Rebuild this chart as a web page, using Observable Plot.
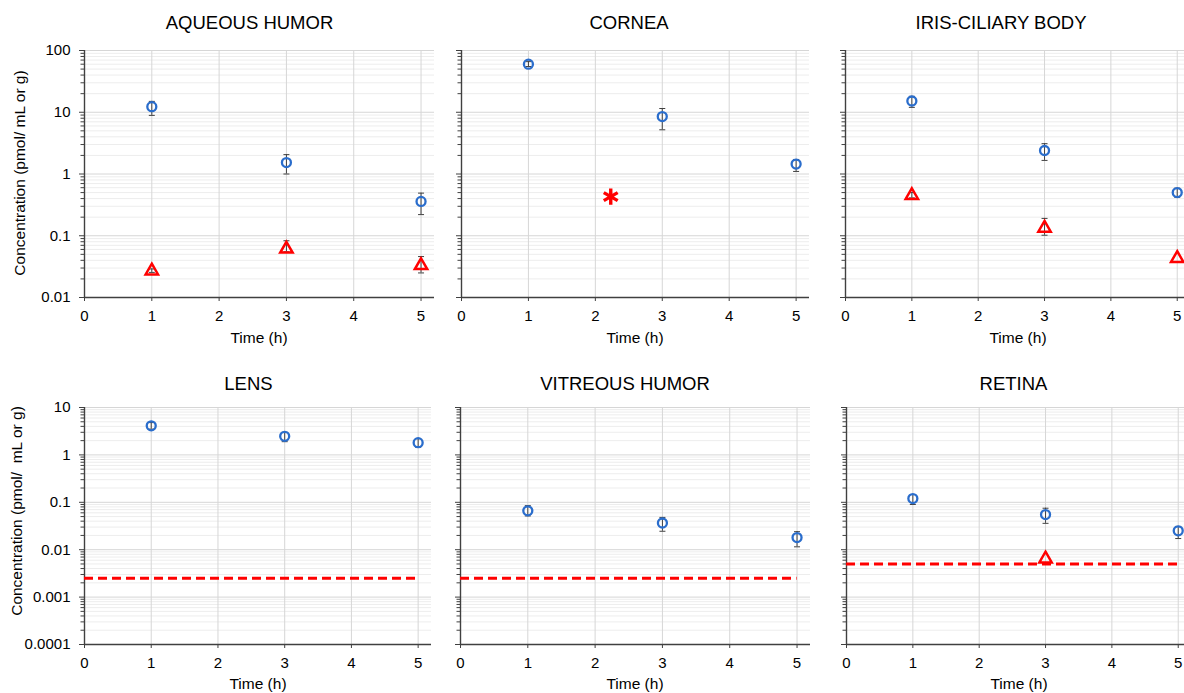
<!DOCTYPE html>
<html>
<head>
<meta charset="utf-8">
<script src="https://cdn.jsdelivr.net/npm/d3@7"></script>
<script src="https://cdn.jsdelivr.net/npm/@observablehq/plot@0.6"></script>
<style>
  html, body { margin: 0; padding: 0; background: #fff; overflow: hidden; }
  #chart { position: relative; width: 1184px; height: 693px; overflow: hidden; font-family: "Liberation Sans", Arial, sans-serif; color: #000; }
  .pnl { position: absolute; }
  .txt { position: absolute; white-space: pre; line-height: 1; transform: translate(-50%, -50%); }
  .ttl { font-size: 18.5px; }
  .lab { font-size: 15.5px; }
  .ylab { font-size: 15.5px; transform: translate(-50%, -50%) rotate(-90deg); }
</style>
</head>
<body>
<div id="chart"></div>
<script>
// ---------------- data ----------------
const times = [1, 3, 5];
const xTicks = [0, 1, 2, 3, 4, 5];
const loqSpan = [0, 5];

const yTicksTop = [0.01, 0.1, 1, 10, 100];
const yLabelsTop = ["0.01", "0.1", "1", "10", "100"];
const yTicksBottom = [0.0001, 0.001, 0.01, 0.1, 1, 10];
const yLabelsBottom = ["0.0001", "0.001", "0.01", "0.1", "1", "10"];

// AQUEOUS HUMOR
const aqParent   = [12.3, 1.53, 0.36];
const aqParentLo = [8.9, 1.0, 0.22];
const aqParentHi = [15.0, 2.06, 0.49];
const aqMetTimes = [1, 3, 5];
const aqMet      = [0.027, 0.061, 0.033];
const aqMetLo    = [0.0255, 0.055, 0.025];
const aqMetHi    = [0.029, 0.083, 0.046];

// CORNEA
const coParent   = [60, 8.5, 1.45];
const coParentLo = [55, 5.2, 1.1];
const coParentHi = [66, 11.5, 1.72];
const coMarkTime = [2.23];
const coMarkValue = [0.43];

// IRIS-CILIARY BODY
const irParent   = [15.2, 2.4, 0.5];
const irParentLo = [12.0, 1.66, 0.42];
const irParentHi = [18.1, 3.1, 0.59];
const irMetTimes = [1, 3, 5];
const irMet      = [0.45, 0.133, 0.043];
const irMetLo    = [0.41, 0.102, null];
const irMetHi    = [0.5, 0.191, null];

// LENS
const leParent   = [4.1, 2.46, 1.81];
const leParentLo = [3.5, 1.9, 1.45];
const leParentHi = [4.8, 3.0, 2.2];
const leLoq = 0.0025;

// VITREOUS HUMOR
const viParent   = [0.066, 0.0366, 0.018];
const viParentLo = [0.0515, 0.0245, 0.0115];
const viParentHi = [0.085, 0.048, 0.024];
const viLoq = 0.0025;

// RETINA
const reParent   = [0.12, 0.055, 0.025];
const reParentLo = [0.09, 0.036, 0.0172];
const reParentHi = [0.146, 0.075, 0.031];
const reMetTimes = [3];
const reMet      = [0.0064];
const reMetLo    = [null];
const reMetHi    = [null];
const reLoq = 0.005;

// ---------------- helpers ----------------
const blue = "#2a6dcc";
const red = "#ff0000";
const axisColor = "#404040";
const barColor = "#404040";

const capSymbol = {
  draw(ctx, size) {
    const w = Math.sqrt(size / Math.PI);
    ctx.moveTo(-w, 0);
    ctx.lineTo(w, 0);
  }
};

function rows(ts, vals, lo, hi) {
  return ts.map((t, i) => ({t, v: vals[i], lo: lo ? lo[i] : null, hi: hi ? hi[i] : null}));
}

function minorOf(majors) {
  const out = [];
  for (let i = 0; i < majors.length - 1; i++) {
    for (let k = 2; k <= 9; k++) out.push(majors[i] * k);
  }
  return out;
}

const chart = document.getElementById("chart");

function addText(cls, txt, x, y) {
  const d = document.createElement("div");
  d.className = "txt " + cls;
  d.textContent = txt;
  d.style.left = x + "px";
  d.style.top = y + "px";
  chart.appendChild(d);
}

function panel(cfg) {
  const {left, top, mL, plotW, mT, plotH, mB, majors, labels, showLabels} = cfg;
  const minors = minorOf(majors);
  const marks = [
    Plot.ruleY(minors, {stroke: "#ededed", strokeWidth: 1}),
    Plot.ruleY(majors, {stroke: "#d6d6d6", strokeWidth: 1}),
    Plot.ruleX(xTicks, {stroke: "#d6d6d6", strokeWidth: 1}),
    Plot.axisY({ticks: minors, tickSize: 3.5, tickFormat: () => "", label: null, stroke: axisColor}),
    Plot.axisY({
      ticks: majors, tickSize: 5, tickPadding: 9, label: null, stroke: axisColor, fill: "#000",
      tickFormat: showLabels ? (d) => labels[majors.indexOf(d)] : () => ""
    }),
    Plot.axisX({ticks: xTicks, tickSize: 4, tickPadding: 8.5, label: null, stroke: axisColor, fill: "#000", tickFormat: d => String(d)}),
    Plot.ruleX([0], {stroke: axisColor, strokeWidth: 1.4}),
    Plot.ruleY([majors[0]], {stroke: axisColor, strokeWidth: 1.4})
  ];
  if (cfg.loq != null) {
    marks.push(Plot.ruleY([cfg.loq], {
      y: d => d, x1: () => loqSpan[0], x2: () => loqSpan[1],
      stroke: red, strokeWidth: 3, strokeDasharray: "9,5"
    }));
  }
  const series = [];
  if (cfg.parent) series.push({data: cfg.parent, kind: "parent"});
  if (cfg.met) series.push({data: cfg.met, kind: "met"});
  for (const s of series) {
    const eb = s.data.filter(d => d.lo != null && d.hi != null);
    marks.push(Plot.ruleX(eb, {x: "t", y1: "lo", y2: "hi", stroke: barColor, strokeWidth: 1}));
    marks.push(Plot.dot(eb, {x: "t", y: "lo", symbol: capSymbol, r: 3, stroke: barColor, strokeWidth: 1}));
    marks.push(Plot.dot(eb, {x: "t", y: "hi", symbol: capSymbol, r: 3, stroke: barColor, strokeWidth: 1}));
  }
  for (const s of series) {
    if (s.kind === "parent") {
      marks.push(Plot.dot(s.data, {x: "t", y: "v", r: 4.5, stroke: blue, strokeWidth: 2.3, fill: "none"}));
    } else {
      marks.push(Plot.dot(s.data, {x: "t", y: "v", symbol: "triangle", r: 4.6, stroke: red, strokeWidth: 2.5, fill: "none", strokeLinejoin: "miter"}));
    }
  }
  if (cfg.mark) {
    marks.push(Plot.dot(cfg.mark, {x: "t", y: "v", symbol: "asterisk", r: 7.6, stroke: red, strokeWidth: 3.4}));
  }
  const svg = Plot.plot({
    width: mL + plotW + 6,
    height: mT + plotH + mB,
    marginLeft: mL, marginRight: 6, marginTop: mT, marginBottom: mB,
    x: {domain: [0, 5.2], axis: null},
    y: {type: "log", domain: [majors[0], majors[majors.length - 1]], axis: null},
    style: {fontFamily: "Liberation Sans, Arial, sans-serif", fontSize: "15px", background: "transparent", overflow: "visible", color: "#000"},
    marks
  });
  svg.classList.add("pnl");
  svg.style.left = left + "px";
  svg.style.top = top + "px";
  svg.style.position = "absolute";
  svg.style.maxWidth = "none";
  chart.appendChild(svg);
}

const top1 = {top: 0, mT: 50, plotH: 247, mB: 49, majors: yTicksTop, labels: yLabelsTop};
const top2 = {top: 350, mT: 57, plotH: 237, mB: 43, majors: yTicksBottom, labels: yLabelsBottom};

panel({...top1, left: 0, mL: 84, plotW: 350, showLabels: true,
  parent: rows(times, aqParent, aqParentLo, aqParentHi),
  met: rows(aqMetTimes, aqMet, aqMetLo, aqMetHi)});
panel({...top1, left: 441, mL: 20, plotW: 348, showLabels: false,
  parent: rows(times, coParent, coParentLo, coParentHi),
  mark: rows(coMarkTime, coMarkValue, null, null)});
panel({...top1, left: 825, mL: 20, plotW: 345, showLabels: false,
  parent: rows(times, irParent, irParentLo, irParentHi),
  met: rows(irMetTimes, irMet, irMetLo, irMetHi)});

panel({...top2, left: 0, mL: 84, plotW: 347, showLabels: true,
  parent: rows(times, leParent, leParentLo, leParentHi), loq: leLoq});
panel({...top2, left: 440, mL: 20, plotW: 350, showLabels: false,
  parent: rows(times, viParent, viParentLo, viParentHi), loq: viLoq});
panel({...top2, left: 826, mL: 20, plotW: 345, showLabels: false,
  parent: rows(times, reParent, reParentLo, reParentHi),
  met: rows(reMetTimes, reMet, reMetLo, reMetHi), loq: reLoq});

// titles & labels
addText("ttl", "AQUEOUS HUMOR", 249.5, 22.5);
addText("ttl", "CORNEA", 629, 22.5);
addText("ttl", "IRIS-CILIARY BODY", 1001, 22.5);
addText("ttl", "LENS", 248.5, 383.5);
addText("ttl", "VITREOUS HUMOR", 625, 383.5);
addText("ttl", "RETINA", 1013.5, 383.5);

addText("lab", "Time (h)", 259, 338);
addText("lab", "Time (h)", 635, 338);
addText("lab", "Time (h)", 1018, 338);
addText("lab", "Time (h)", 258, 684);
addText("lab", "Time (h)", 635, 684);
addText("lab", "Time (h)", 1019, 684);

addText("ylab", "Concentration (pmol/ mL or g)", 20, 173);
addText("ylab", "Concentration (pmol/  mL or g)", 17, 510.5);
</script>
</body>
</html>
